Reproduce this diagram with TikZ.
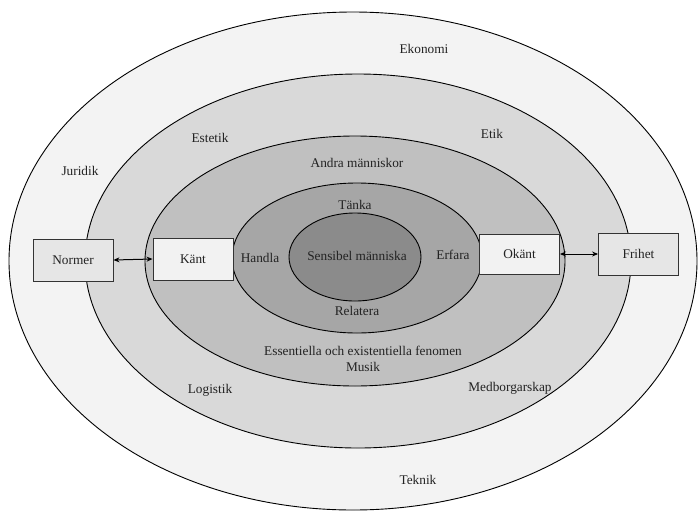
\documentclass[tikz,border=0pt]{standalone}
\usepackage{fontspec}
\setmainfont{Liberation Serif}
\usetikzlibrary{arrows.meta}
\definecolor{ringA}{HTML}{F3F3F3}
\definecolor{ringB}{HTML}{D9D9D9}
\definecolor{ringC}{HTML}{C0C0C0}
\definecolor{ringD}{HTML}{A6A6A6}
\definecolor{ringE}{HTML}{8B8B8B}
\definecolor{boxgray}{HTML}{E6E6E6}
\definecolor{boxlight}{HTML}{F2F2F2}
\definecolor{txt}{HTML}{222222}
\begin{document}
\begin{tikzpicture}[x=1pt,y=-1pt,
  ring/.style={draw=black,line width=0.9pt},
  lbl/.style={text=txt,font=\fontsize{13.3}{15}\selectfont,inner sep=0pt},
  boxnode/.style={draw=black!80,line width=0.9pt,minimum width=80pt,minimum height=42pt,inner sep=0pt,text=txt,font=\fontsize{13.3}{15}\selectfont},
  link/.style={{Stealth[length=6pt,width=5pt]}-{Stealth[length=6pt,width=5pt]},line width=1pt,black}]
\useasboundingbox (0,0) rectangle (699,512);
\fill[white] (0,0) rectangle (699,512);
\draw[ring,fill=ringA] (353,261) ellipse [x radius=344, y radius=249];
\draw[ring,fill=ringB] (358,261) ellipse [x radius=273, y radius=187];
\draw[ring,fill=ringC] (355,261) ellipse [x radius=210, y radius=125];
\draw[ring,fill=ringD] (357,258) ellipse [x radius=125, y radius=75];
\draw[ring,fill=ringE] (355,257) ellipse [x radius=66, y radius=44];

\node[lbl] (ekonomi) at (424,49) {Ekonomi};
\node[lbl] (juridik) at (80,171) {Juridik};
\node[lbl] (estetik) at (210,138) {Estetik};
\node[lbl] (etik) at (492,134) {Etik};
\node[lbl] (andra) at (357,163) {Andra människor};
\node[lbl] (tanka) at (355,205) {Tänka};
\node[lbl] (handla) at (260,258) {Handla};
\node[lbl] (sensibel) at (357,256) {Sensibel människa};
\node[lbl] (erfara) at (453,255) {Erfara};
\node[lbl] (relatera) at (357,311) {Relatera};
\node[lbl] (essent) at (363,351) {Essentiella och existentiella fenomen};
\node[lbl] (musik) at (363,367) {Musik};
\node[lbl] (logistik) at (210,390) {Logistik};
\node[lbl] (medborg) at (510,388) {Medborgarskap};
\node[lbl] (teknik) at (418,480) {Teknik};

\node[boxnode,fill=boxgray] (normer) at (73,260) {Normer};
\node[boxnode,fill=boxlight] (kant) at (193,259) {Känt};
\node[boxnode,fill=boxlight,minimum height=40pt] (okant) at (519.5,254) {Okänt};
\node[boxnode,fill=boxgray] (frihet) at (638.5,254) {Frihet};

\draw[link] (normer.east) -- (kant.west);
\draw[link] (okant.east) -- (frihet.west);
\end{tikzpicture}
\end{document}
